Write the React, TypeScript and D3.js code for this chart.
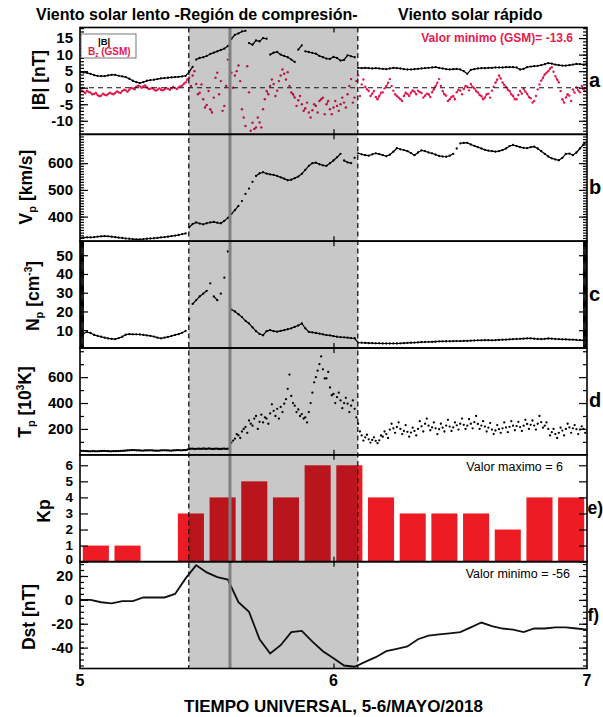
import React, { useRef, useEffect } from 'react';
import * as d3 from 'd3';

// 20-minute samples, 5 May 2018 00:00 UT -> 7 May 2018 00:00 UT (hours = index * STEP_H)
// the *Alt arrays are the in-between readings (10 min later) where the trace is scattered
const STEP_H = 1 / 3;

const bTotal = [
  4.7, 4.6, 4.5, 4.2, 3.8, 3.6, 3.5, 3.5, 3.7, 3.9,
  3.9, 3.6, 3.4, 3.2, 2.7, 2.1, 1.7, 1.4, 1.7, 2.1,
  2.3, 2.4, 2.6, 2.8, 2.9, 3.0, 3.1, 3.2, 3.3, 3.4,
  3.6, 4.8, 6.3, 8.5, 9.0, 9.2, 9.6, 10.2, 10.6, 11.0,
  11.4, 11.8, 12.6, 14.8, 16.0, 16.4, 17.0, 17.2, 13.5, 13.0,
  14.3, 14.0, 15.0, 14.8, 10.0, 10.6, 10.8, 10.0, 9.6, 9.2,
  8.5, 7.8, 11.5, 12.8, 11.0, 10.8, 10.5, 10.3, 9.6, 9.2,
  8.8, 8.7, 9.3, 9.0, 8.2, 8.4, 9.8, 9.5, 9.2, 6.0,
  5.9, 6.0, 5.9, 5.8, 5.9, 5.8, 5.7, 5.6, 5.8, 6.0,
  5.9, 5.8, 5.6, 5.5, 5.5, 5.6, 5.7, 5.8, 5.9, 6.0,
  6.1, 6.2, 6.0, 5.8, 5.6, 5.5, 5.6, 5.7, 5.5, 5.0,
  4.2, 5.4, 5.6, 5.8, 5.9, 5.9, 6.0, 6.0, 6.1, 6.1,
  6.1, 6.2, 6.2, 6.2, 6.1, 5.5, 5.7, 6.2, 6.4, 6.5,
  6.6, 6.8, 7.1, 7.4, 7.3, 7.0, 6.8, 6.7, 6.7, 6.8,
  7.0, 7.2, 7.1, 7.0, 7.3,
];

const bz = [
  -1.4, -1.2, -0.9, -1.5, -1.9, -2.2, -2.4, -2.1, -1.9, -1.8,
  -1.6, -1.4, -1.0, -0.8, -0.6, -0.2, 0.3, 0.4, 0.4, 0.1,
  -0.3, -0.5, -0.6, -0.6, -0.5, -0.3, -0.2, -0.1, 0.1, 0.6,
  1.6, 3.0, 3.7, 1.1, -1.5, -3.5, -5.2, -6.5, -3.0, 4.5,
  2.0, -5.5, 8.5, 4.5, 3.7, 6.7, -6.5, -11.6, -1.4, -10.6,
  -12.0, -10.5, -6.5, -1.0, 0.5, 1.1, -0.9, 3.7, 4.2, 4.7,
  -1.4, -3.0, -3.8, -5.0, -6.2, -7.5, -6.8, -5.5, -4.0, -3.0,
  -5.0, -6.5, -6.0, -5.5, -5.0, -4.5, -2.0, 2.6, -3.0, 3.7,
  1.0, 0.3, -1.0, -1.8, -2.8, -2.5, -1.4, 0.5, 2.6, -0.9,
  -2.5, -3.5, -2.5, -1.9, -1.5, -1.2, -0.9, -1.6, -2.4, -2.0,
  -1.4, 0.5, 2.6, -1.0, -2.4, -3.5, -2.5, -1.4, -0.9, -0.4,
  0.3, 1.1, -0.2, -1.4, -2.5, -3.0, -1.8, -0.9, 1.5, 3.7,
  1.6, 0.2, -1.0, -2.5, -3.5, -1.0, -0.4, -1.9, -3.2, -4.0,
  -0.5, 2.1, 4.0, 5.0, 6.2, 3.5, 1.6, -3.5, -3.0, -2.4,
  -0.5, 0.1, -1.4, -0.5, 1.1,
];

const bzAlt = [
  -0.8, -1.6, -1.3, -2.0, -1.6, -2.6, -1.8, -2.3, -1.5, -2.0,
  -1.1, -1.6, -0.6, -1.2, -0.1, -0.5, 0.6, 0.0, 0.7, -0.4,
  -0.1, -0.9, -0.2, -0.8, -0.1, -0.6, 0.2, -0.4, 0.4, 1.2,
  2.5, 0.5, 5.0, -2.0, 1.0, -6.0, -1.0, -7.5, 3.0, -2.0,
  -7.0, 0.5, 10.0, 0.0, 5.0, 2.0, -9.0, 6.5, -13.0, -12.5,
  -9.0, -12.0, -3.5, -2.0, 2.5, -2.5, 2.0, 5.5, 2.5, 0.5,
  -2.0, -5.5, -2.5, -7.0, -4.5, -9.0, -5.0, -7.5, -3.5, -8.0,
  -4.0, -8.0, -4.0, -7.0, -3.0, -6.0, 0.5, -4.5, 2.0, -2.5,
  2.5, -0.5, -2.5, -1.0, -3.5, -1.5, -0.2, 1.5, 0.5, -2.0,
  -3.0, -4.0, -1.5, -2.5, -0.8, -2.0, -1.3, -3.0, -1.8, -2.8,
  -0.5, 1.5, 0.5, -2.0, -4.0, -2.8, -3.5, -0.6, -2.0, 0.5,
  -0.8, 0.2, -1.0, -2.2, -3.5, -2.0, -3.0, 0.3, 2.5, 2.8,
  0.8, -0.6, -2.0, -3.5, -2.2, -1.8, -1.2, -2.8, -4.5, -2.5,
  1.0, 3.0, 4.5, 5.8, 4.8, 2.5, -1.0, -4.5, -2.0, -4.0,
  -1.5, -0.8, 0.5, -1.0,
];

const vp = [
  320, 321, 322, 322, 323, 325, 326, 327, 326, 325,
  323, 321, 320, 318, 317, 316, 315, 315, 316, 317,
  318, 319, 320, 322, 323, 325, 327, 329, 331, 334,
  337, 360, 372, 378, 374, 371, 375, 378, 380, 377,
  375, 384, 395, 410, 424, 440, 458, 485, 505, 530,
  552, 562, 566, 561, 558, 556, 552, 547, 542, 536,
  538, 544, 550, 560, 575, 590, 600, 602, 596, 592,
  590, 600, 610, 622, 635, 610, 603, 600, 620, 637,
  633, 630, 628, 633, 637, 634, 630, 626, 632, 643,
  656, 652, 649, 645, 638, 630, 640, 648, 645, 640,
  637, 632, 627, 625, 624, 628, 635, 655, 674, 676,
  676, 670, 665, 660, 655, 650, 647, 645, 643, 645,
  649, 655, 664, 668, 664, 660, 657, 656, 660, 662,
  655, 645, 635, 625, 618, 614, 611, 620, 635, 636,
  630, 640, 655, 670, 680,
];

const np = [
  10, 8.2, 9.0, 8.5, 7.5, 7.0, 6.5, 6.0, 5.6, 5.4,
  5.2, 5.8, 6.5, 7.6, 7.9, 7.8, 7.8, 7.7, 7.5, 7.2,
  7.0, 6.6, 6.0, 5.6, 6.0, 6.4, 6.9, 7.5, 7.9, 8.6,
  9.6, 16, 24, 26, 28, 29.5, 31, 35, 28, 26,
  29.5, 38, 52, 21, 20, 18.5, 17, 15, 13.6, 11.5,
  9.5, 8, 7.3, 9.5, 10, 9.5, 9.2, 9.6, 10, 10.5,
  11, 11.8, 12.5, 13.6, 11, 9.1, 8.8, 8.5, 8.2, 7.8,
  7.4, 7.2, 6.8, 6.5, 6.3, 6.2, 6.0, 5.8, 5.7, 3.4,
  3.3, 3.2, 3.1, 3.1, 3.0, 3.0, 2.9, 2.9, 2.9, 2.9,
  2.9, 3.0, 3.1, 3.2, 3.3, 3.4, 3.5, 3.6, 3.7, 3.8,
  3.8, 3.9, 4.0, 4.0, 4.1, 4.1, 4.2, 4.2, 4.2, 4.3,
  4.3, 4.4, 4.5, 4.6, 4.6, 4.7, 4.7, 4.6, 4.7, 4.8,
  4.9, 5.0, 5.1, 5.2, 5.3, 5.4, 5.5, 5.6, 5.6, 5.5,
  5.3, 5.2, 5.4, 5.6, 5.5, 5.3, 5.2, 5.1, 5.1, 5.0,
  5.0, 4.8, 4.7, 4.6, 4.6,
];

// 10^3 K
const tp = [
  32, 30, 28, 27, 28, 27, 29, 30, 28, 27,
  28, 29, 31, 33, 35, 37, 35, 34, 33, 34,
  35, 33, 32, 34, 35, 34, 33, 35, 36, 35,
  37, 45, 48, 46, 47, 49, 46, 48, 45, 47,
  46, 48, 47, 95, 125, 150, 180, 215, 265, 225,
  300, 255, 250, 280, 320, 340, 355, 370, 395, 510,
  455, 380, 350, 315, 290, 330, 480, 600, 700, 660,
  590, 520, 470, 445, 420, 400, 395, 380, 355, 240,
  150, 135, 120, 115, 108, 112, 140, 160, 195, 205,
  215, 200, 185, 178, 172, 185, 200, 220, 240, 225,
  212, 205, 198, 210, 226, 218, 212, 228, 240, 232,
  225, 240, 252, 238, 226, 218, 210, 195, 188, 198,
  205, 212, 216, 225, 222, 214, 225, 238, 232, 226,
  240, 252, 225, 200, 175, 160, 170, 187, 200, 212,
  205, 198, 195, 200, 195,
];

const tpAlt = [
  31, 29, 27, 28, 27, 28, 30, 29, 27, 28,
  29, 30, 32, 34, 36, 36, 34, 33, 34, 34,
  34, 32, 33, 35, 34, 33, 34, 36, 35, 36,
  40, 47, 45, 48, 46, 47, 49, 46, 48, 45,
  47, 46, 48, 110, 160, 130, 200, 170, 240, 280,
  200, 310, 290, 240, 390, 300, 280, 330, 430, 620,
  400, 330, 300, 280, 250, 400, 560, 650, 760, 590,
  640, 460, 400, 480, 360, 440, 330, 420, 290, 180,
  110, 155, 95, 135, 90, 150, 180, 130, 240, 170,
  250, 160, 230, 140, 210, 150, 260, 180, 280, 190,
  250, 160, 240, 180, 270, 185, 250, 195, 280, 200,
  275, 205, 300, 200, 260, 180, 245, 160, 230, 170,
  250, 175, 260, 190, 255, 185, 270, 200, 265, 195,
  300, 210, 250, 150, 200, 130, 210, 150, 240, 170,
  230, 160, 220, 170,
];

// Kp, 3-hour intervals
const kp = [1, 1, 0, 3, 4, 5, 4, 6, 6, 4, 3, 3, 3, 2, 4, 4];

// Dst, hourly (nT)
const dst = [
  0, 0, -2, -3, -1, -1, 2, 2, 2, 5,
  18, 29, 23, 19, 17, -2, -10, -33, -45, -38,
  -27, -26, -35, -43, -49, -55, -56, -52, -48, -43,
  -41, -39, -33, -30, -29, -28, -27, -23, -19, -22,
  -24, -25, -27, -24, -24, -23, -23, -24, -25,
];

const dayTicks = [0, 24, 48];
const dayLabels = ['5', '6', '7'];

const SHADE_START = 10.3;
const SHADE_END = 26.3;
const SHOCK_H = 14.2;

const W = 603, H = 717;
const LEFT = 80, RIGHT = 587, TOP = 27.5, BOTTOM = 668.5;
const FONT = '"Liberation Sans", Arial, Helvetica, sans-serif';
const RED = '#e31b4e';
const BAR = '#ed1c24';

const panels = [
  { id: 'a', domain: [-14.1, 18.2], major: [-10, -5, 0, 5, 10, 15], minor: d3.range(-14, 18.5, 1), letter: 'a', tx: 45, ty: 80 },
  { id: 'b', domain: [308, 708], major: [400, 500, 600], minor: d3.range(310, 708, 10), letter: 'b', tx: 32, ty: 187 },
  { id: 'c', domain: [0.5, 57.5], major: [10, 20, 30, 40, 50], minor: d3.range(1, 57.5, 0.5), letter: 'c', tx: 39, ty: 296 },
  { id: 'd', domain: [0, 825], major: [200, 400, 600], minor: [100, 300, 500, 700, 800], letter: 'd', tx: 31, ty: 402 },
  { id: 'e', domain: [0, 6.65], major: [0, 1, 2, 3, 4, 5, 6], minor: [], letter: 'e)', tx: 50, ty: 511 },
  { id: 'f', domain: [-57.5, 32], major: [-40, -20, 0, 20], minor: d3.range(-55, 31, 5), letter: 'f)', tx: 35, ty: 617 },
];

// [hour, value] pairs, main samples interleaved with the in-between ones
function merge(main, alt) {
  const out = [];
  main.forEach((v, i) => {
    out.push([i * STEP_H, v]);
    if (alt && i < alt.length) out.push([(i + 0.5) * STEP_H, alt[i]]);
  });
  return out;
}

function drawSeries(g, x, y, data, color, thr, r) {
  const pts = data.map(d => [x(d[0]), y(d[1])]);
  const runs = [];
  let run = [pts[0]];
  for (let i = 1; i < data.length; i++) {
    if (Math.abs(data[i][1] - data[i - 1][1]) <= thr) run.push(pts[i]);
    else { runs.push(run); run = [pts[i]]; }
  }
  runs.push(run);
  g.append('g').selectAll('path').data(runs.filter(d => d.length > 1)).join('path')
    .attr('d', d3.line())
    .attr('fill', 'none').attr('stroke', color).attr('stroke-width', 1.2);
  g.append('g').selectAll('circle').data(pts).join('circle')
    .attr('cx', d => d[0]).attr('cy', d => d[1]).attr('r', r).attr('fill', color);
}

export default function App() {
  const ref = useRef(null);

  useEffect(() => {
    const svg = d3.select(ref.current);
    svg.selectAll('*').remove();
    const x = d3.scaleLinear().domain([0, 48]).range([LEFT, RIGHT]);
    const ph = (BOTTOM - TOP) / panels.length;
    const defs = svg.append('defs');

    panels.forEach((p, k) => {
      const y0 = TOP + k * ph;
      const y1 = y0 + ph;
      const y = d3.scaleLinear().domain(p.domain).range([y1, y0]);
      defs.append('clipPath').attr('id', 'clip-' + p.id).append('rect')
        .attr('x', LEFT).attr('y', y0).attr('width', RIGHT - LEFT).attr('height', ph);
      const g = svg.append('g').attr('clip-path', `url(#clip-${p.id})`);

      if (p.id === 'a') {
        drawSeries(g, x, y, merge(bTotal), '#000', 1.6, 1.15);
        drawSeries(g, x, y, merge(bz, bzAlt), RED, 1.0, 1.2);
      } else if (p.id === 'b') {
        drawSeries(g, x, y, merge(vp), '#000', 16, 1.15);
      } else if (p.id === 'c') {
        drawSeries(g, x, y, merge(np), '#000', 2.6, 1.15);
      } else if (p.id === 'd') {
        drawSeries(g, x, y, merge(tp, tpAlt), '#000', 12, 1.15);
      } else if (p.id === 'e') {
        g.selectAll('rect.kp').data(kp).join('rect').attr('class', 'kp')
          .attr('x', (d, i) => x(i * 3) + 2.8)
          .attr('width', x(3) - x(0) - 5.6)
          .attr('y', d => y(d))
          .attr('height', d => y(0) - y(d))
          .attr('fill', BAR);
      } else {
        g.append('path').datum(dst)
          .attr('d', d3.line().x((d, i) => x(i)).y(d => y(d)))
          .attr('fill', 'none').attr('stroke', '#111').attr('stroke-width', 1.8);
      }

      // shaded compression region
      g.append('rect').attr('x', x(SHADE_START)).attr('y', y0)
        .attr('width', x(SHADE_END) - x(SHADE_START)).attr('height', ph)
        .attr('fill', '#000').attr('opacity', 0.215);

      if (p.id === 'a') {
        g.append('line').attr('x1', LEFT).attr('x2', RIGHT).attr('y1', y(0)).attr('y2', y(0))
          .attr('stroke', '#111').attr('stroke-width', 1.1).attr('stroke-dasharray', '5,4');
      }

      p.y = y; p.y0 = y0; p.y1 = y1;
    });

    // region boundaries and shock line
    [SHADE_START, SHADE_END].forEach(h => {
      svg.append('line').attr('x1', x(h)).attr('x2', x(h)).attr('y1', TOP).attr('y2', BOTTOM)
        .attr('stroke', '#111').attr('stroke-width', 1.3).attr('stroke-dasharray', '5,3.5');
    });
    svg.append('line').attr('x1', x(SHOCK_H)).attr('x2', x(SHOCK_H)).attr('y1', TOP).attr('y2', BOTTOM)
      .attr('stroke', '#7f7f7f').attr('stroke-width', 3);

    // axes and frames
    panels.forEach(p => {
      const y = p.y;
      const styleAxis = (ga, labels) => {
        ga.select('.domain').remove();
        ga.selectAll('line').attr('stroke', '#000').attr('stroke-width', 1.2);
        if (labels) {
          ga.selectAll('text').attr('font-size', 15).attr('font-weight', 'bold')
            .attr('font-family', FONT).attr('fill', '#000');
        }
        ga.attr('font-family', null).attr('font-size', null);
      };
      const left = svg.append('g').attr('transform', `translate(${LEFT},0)`)
        .call(d3.axisLeft(y).tickValues(p.major).tickSize(-8).tickPadding(7).tickFormat(d => String(d)));
      styleAxis(left, true);
      if (p.id === 'e') {
        left.selectAll('text').attr('font-size', 13.5);
        left.selectAll('.tick').filter(d => d === 0).select('text').attr('y', -2.5);
      }
      const right = svg.append('g').attr('transform', `translate(${RIGHT},0)`)
        .call(d3.axisRight(y).tickValues(p.major).tickSize(-8).tickFormat(() => ''));
      styleAxis(right, false);
      if (p.minor.length) {
        const lm = svg.append('g').attr('transform', `translate(${LEFT},0)`)
          .call(d3.axisLeft(y).tickValues(p.minor).tickSize(-4).tickFormat(() => ''));
        styleAxis(lm, false);
        const rm = svg.append('g').attr('transform', `translate(${RIGHT},0)`)
          .call(d3.axisRight(y).tickValues(p.minor).tickSize(-4).tickFormat(() => ''));
        styleAxis(rm, false);
      }
      const top = svg.append('g').attr('transform', `translate(0,${p.y0})`)
        .call(d3.axisTop(x).tickValues([24]).tickSize(-5).tickFormat(() => ''));
      styleAxis(top, false);
      const bottom = svg.append('g').attr('transform', `translate(0,${p.y1})`)
        .call(d3.axisBottom(x).tickValues([24]).tickSize(-5).tickFormat(() => ''));
      styleAxis(bottom, false);

      svg.append('rect').attr('x', LEFT).attr('y', p.y0).attr('width', RIGHT - LEFT).attr('height', p.y1 - p.y0)
        .attr('fill', 'none').attr('stroke', '#000').attr('stroke-width', 1.6);

      const paren = p.letter.length > 1;
      svg.append('text').attr('x', paren ? 587.5 : 589).attr('y', (p.y0 + p.y1) / 2 + 6)
        .attr('font-family', FONT).attr('font-weight', 'bold').attr('font-size', paren ? 17.5 : 20)
        .text(p.letter);
    });

    // y titles
    const titleText = (p) => svg.append('text')
      .attr('transform', `translate(${p.tx},${p.ty}) rotate(-90)`)
      .attr('text-anchor', 'middle').attr('font-family', FONT).attr('font-weight', 'bold')
      .attr('font-size', 17.5).attr('fill', '#000');
    let t = titleText(panels[0]); t.text('|B| [nT]');
    t = titleText(panels[1]); t.append('tspan').text('V');
    t.append('tspan').attr('font-size', 11).attr('dy', 4).text('p');
    t.append('tspan').attr('dy', -4).text(' [km/s]');
    t = titleText(panels[2]); t.append('tspan').text('N');
    t.append('tspan').attr('font-size', 11).attr('dy', 4).text('p');
    t.append('tspan').attr('dy', -4).text(' [cm');
    t.append('tspan').attr('font-size', 10).attr('dy', -7).text('-3');
    t.append('tspan').attr('dy', 7).text(']');
    t = titleText(panels[3]); t.append('tspan').text('T');
    t.append('tspan').attr('font-size', 11).attr('dy', 4).text('p');
    t.append('tspan').attr('dy', -4).text(' [10');
    t.append('tspan').attr('font-size', 10).attr('dy', -7).text('3');
    t.append('tspan').attr('dy', 7).text('K]');
    t = titleText(panels[4]); t.text('Kp');
    t = titleText(panels[5]); t.text('Dst [nT]');

    // x axis labels
    svg.append('g').selectAll('text').data(dayTicks).join('text')
      .attr('x', d => x(d)).attr('y', 686).attr('text-anchor', 'middle')
      .attr('font-family', FONT).attr('font-weight', 'bold').attr('font-size', 16)
      .text((d, i) => dayLabels[i]);
    svg.append('text').attr('x', (LEFT + RIGHT) / 2).attr('y', 712).attr('text-anchor', 'middle')
      .attr('font-family', FONT).attr('font-weight', 'bold').attr('font-size', 17)
      .text('TIEMPO UNIVERSAL, 5-6/MAYO/2018');

    // header
    svg.append('text').attr('x', 36).attr('y', 20).attr('font-family', FONT).attr('font-weight', 'bold')
      .attr('font-size', 16).text('Viento solar lento -Región de compresión-');
    svg.append('text').attr('x', 398).attr('y', 20).attr('font-family', FONT).attr('font-weight', 'bold')
      .attr('font-size', 16).text('Viento solar rápido');

    // legend panel a
    const lg = svg.append('g');
    lg.append('rect').attr('x', 81).attr('y', 34).attr('width', 55).attr('height', 24)
      .attr('fill', '#fff').attr('stroke', '#555').attr('stroke-width', 0.8);
    lg.append('text').attr('x', 98).attr('y', 44.5).attr('font-family', FONT).attr('font-weight', 'bold')
      .attr('font-size', 9.5).text('|B|');
    const bl = lg.append('text').attr('x', 88).attr('y', 55).attr('font-family', FONT).attr('font-weight', 'bold')
      .attr('font-size', 10).attr('fill', RED);
    bl.append('tspan').text('B');
    bl.append('tspan').attr('font-size', 6.5).attr('dy', 2).text('z');
    bl.append('tspan').attr('dy', -2).text(' (GSM)');

    // annotations
    svg.append('text').attr('x', 573).attr('y', 42).attr('text-anchor', 'end').attr('fill', RED)
      .attr('font-family', FONT).attr('font-weight', 'bold').attr('font-size', 12)
      .text('Valor minimo (GSM)= -13.6');
    svg.append('text').attr('x', 563).attr('y', 471).attr('text-anchor', 'end')
      .attr('font-family', FONT).attr('font-size', 12.5).text('Valor maximo = 6');
    svg.append('text').attr('x', 570).attr('y', 578).attr('text-anchor', 'end')
      .attr('font-family', FONT).attr('font-size', 12.5).text('Valor minimo = -56');
  }, []);

  return (
    <svg ref={ref} width={W} height={H}
      style={{ position: 'absolute', left: 0, top: 0, background: '#fff' }} />
  );
}
